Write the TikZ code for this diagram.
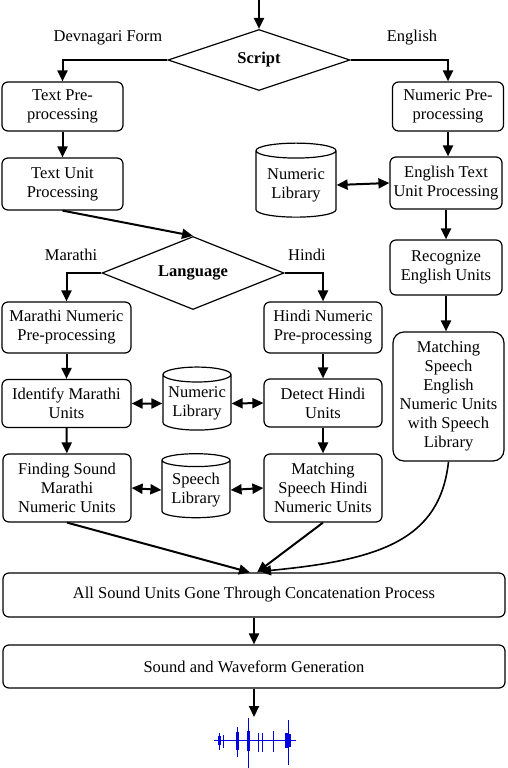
\documentclass[tikz,border=0pt]{standalone}
\usepackage{fontspec}
\setmainfont{Liberation Serif}
\usetikzlibrary{arrows.meta,shapes.geometric,calc}
\newcommand\flowfont{\fontsize{16.5}{19}\selectfont}
\tikzset{
  pbox/.style ={rectangle, rounded corners=6pt, draw=black, line width=1.2pt,
                align=center, inner sep=1pt, font=\flowfont},
  pdec/.style ={diamond, draw=black, line width=1.2pt, aspect=3,
                minimum width=182pt, inner sep=0pt, font=\flowfont\bfseries},
  plib/.style ={cylinder, shape border rotate=90, aspect=0.25, draw=black,
                line width=1.2pt, align=center, inner sep=1pt, font=\flowfont},
  plabel/.style={font=\flowfont},
  parr/.style ={-{Triangle[length=11pt,width=10pt]}, line width=2pt},
  pboth/.style={{Triangle[length=11pt,width=10pt]}-{Triangle[length=11pt,width=10pt]}, line width=2pt},
  pwave/.style={blue!90!black, line width=1pt},
}
\begin{document}
\begin{tikzpicture}[x=1pt, y=-1pt]
  \useasboundingbox (0,0) rectangle (508,768);
  % script decision
  \coordinate (start) at (259,0);
  \node[pdec, minimum height=61pt] (script) at (259,60) {Script};
  \node[plabel] (ldev) at (108,38) {Devnagari Form};
  \node[plabel] (leng) at (412,38) {English};
  % left column
  \node[pbox, minimum width=121pt, minimum height=49pt] (tpre) at (62.5,106.5) {Text Pre-\\processing};
  \node[pbox, minimum width=121pt, minimum height=52pt] (tunit) at (62.5,184) {Text Unit\\Processing};
  % right column
  \node[pbox, minimum width=111pt, minimum height=49pt] (npre) at (448,106.5) {Numeric Pre-\\processing};
  \node[pbox, minimum width=112pt, minimum height=52pt] (etu) at (446,183) {English Text\\Unit Processing};
  \node[plib, minimum width=80pt, minimum height=74pt] (nlibA) at (296,185) {Numeric\\Library};
  \node[pbox, minimum width=112pt, minimum height=55pt] (reu) at (446,267.5) {Recognize\\English Units};
  \node[pbox, rounded corners=11pt, minimum width=111pt, minimum height=129pt] (mes) at (448.5,396.5)
    {Matching\\Speech\\English\\Numeric Units\\with Speech\\Library};
  % language decision
  \node[pdec, minimum height=73pt] (lang) at (193,273) {Language};
  \node[plabel] (lmar) at (71,255) {Marathi};
  \node[plabel] (lhin) at (307,255) {Hindi};
  \node[pbox, minimum width=129pt, minimum height=51pt] (mnp) at (66.5,327.5) {Marathi Numeric\\Pre-processing};
  \node[pbox, minimum width=118pt, minimum height=51pt] (hnp) at (323,327.5) {Hindi Numeric\\Pre-processing};
  \node[pbox, minimum width=129pt, minimum height=48pt] (imu) at (66.5,403.5) {Identify Marathi\\Units};
  \node[pbox, minimum width=118pt, minimum height=48pt] (dhu) at (323,403) {Detect Hindi\\Units};
  \node[plib, minimum width=68pt, minimum height=63pt] (nlibB) at (197,403.5) {Numeric\\Library};
  \node[pbox, minimum width=128pt, minimum height=68pt] (fsm) at (67,488) {Finding Sound\\Marathi\\Numeric Units};
  \node[pbox, minimum width=118pt, minimum height=68pt] (msh) at (323,488) {Matching\\Speech Hindi\\Numeric Units};
  \node[plib, minimum width=68pt, minimum height=64pt] (slib) at (196,490) {Speech\\Library};
  % bottom
  \node[pbox, minimum width=502pt, minimum height=44pt] (allsu) at (254,595) {All Sound Units Gone Through Concatenation Process};
  \node[pbox, minimum width=502pt, minimum height=43pt] (swg) at (254,666.5) {Sound and Waveform Generation};
  \coordinate (wave) at (254,717);

  % connectors
  \draw[parr] (start) -- (script.north);
  \draw[parr] (script.west) -| (tpre.north);
  \draw[parr] (script.east) -| (npre.north);
  \draw[parr] (tpre) -- (tunit);
  \draw[parr] (npre.south) -- (npre.south |- etu.north);
  \draw[pboth] (nlibA.east) -- (etu.west);
  \draw[parr] (tunit.south) -- (lang.north);
  \draw[parr] (lang.west) -| (mnp.north);
  \draw[parr] (lang.east) -| (hnp.north);
  \draw[parr] (etu) -- (reu);
  \draw[parr] (reu.south) -- (reu.south |- mes.north);
  \draw[parr] (mnp) -- (imu);
  \draw[parr] (imu) -- (fsm);
  \draw[parr] (hnp) -- (dhu);
  \draw[parr] (dhu) -- (msh);
  \draw[pboth] (imu.east) -- (nlibB.west);
  \draw[pboth] (nlibB.east) -- (dhu.west);
  \draw[pboth] (fsm.east) -- (slib.west);
  \draw[pboth] (slib.east) -- (msh.west);
  \draw[parr] (fsm.south) -- ($(allsu.north)+(-4,0)$);
  \draw[parr] (msh.south) -- ($(allsu.north)+(3,0)$);
  \draw[parr, line width=1.6pt] (mes.south) .. controls (440,540) and (380,560) .. ($(allsu.north)+(6,-1)$);
  \draw[parr] (allsu) -- (swg);
  \draw[parr] (swg.south) -- (wave);

  % waveform
  \draw[pwave, line width=0.8pt] (214,740) -- (296,740);
  \foreach \wx/\wt/\wb in {219/733/750, 223/735/748, 237/727/757, 248/718/768,
                           258/733/752, 262/733/752, 273/731/752, 288/720/765}
    {\draw[pwave] (\wx,\wt) -- (\wx,\wb);}
  \foreach \wx/\wt/\wb in {219/736/745, 237/732/750, 248/731/751, 286/733/748, 289/734/747}
    {\draw[pwave, line width=3pt] (\wx,\wt) -- (\wx,\wb);}
\end{tikzpicture}
\end{document}
